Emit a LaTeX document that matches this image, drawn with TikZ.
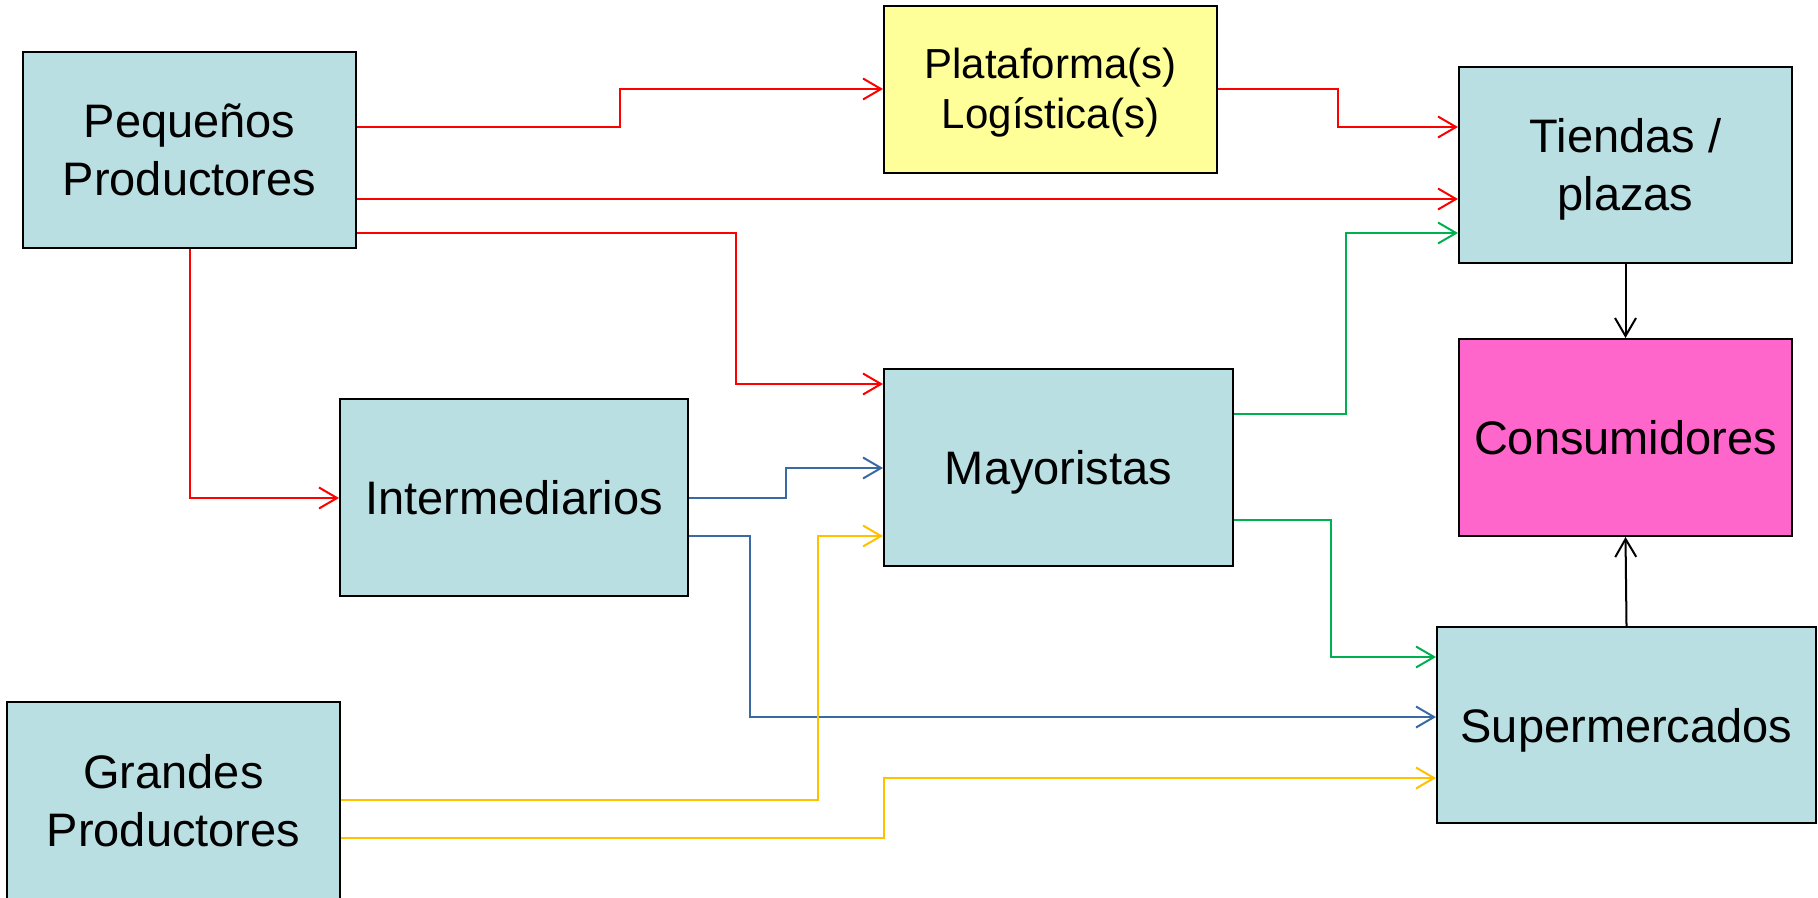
\documentclass[tikz,border=0pt]{standalone}
\usepackage{fontspec}
\setmainfont{Liberation Sans}
\usetikzlibrary{arrows.meta}

\definecolor{boxblue}{HTML}{B9DFE3}
\definecolor{boxyellow}{HTML}{FFFF99}
\definecolor{boxpink}{HTML}{FF66CC}
\definecolor{lnred}{HTML}{FF0000}
\definecolor{lngreen}{HTML}{00B050}
\definecolor{lnblue}{HTML}{3A6AA3}
\definecolor{lnyellow}{HTML}{FFC000}

% fixed line struts (height 22pt / 19.5pt, depth 5pt) so every label
% sits on the same baseline grid
\newcommand\bstrut{\rule[-5pt]{0pt}{27pt}}
\newcommand\pstrut{\rule[-5pt]{0pt}{24.5pt}}

\tikzset{
  box/.style={draw=black, line width=1pt, fill=boxblue, inner sep=0pt,
    align=center, font=\fontsize{23.5}{29}\selectfont},
  conn/.style={line width=1pt, -{Straight Barb[length=9pt,width=10.5pt]}},
  rline/.style={conn, draw=lnred},
  gline/.style={conn, draw=lngreen},
  bline/.style={conn, draw=lnblue},
  yline/.style={conn, draw=lnyellow},
  kline/.style={conn, draw=black},
}

\begin{document}
\begin{tikzpicture}[x=0.5pt, y=-0.5pt]
  \useasboundingbox (0,0) rectangle (1818,898);

  % boxes (centre, width, height in pixel units)
  \node[box, minimum width=166.5pt, minimum height=98pt] (pp) at (189.5,150)
    {\bstrut Pequeños\\\bstrut Productores};
  \node[box, fill=boxyellow, minimum width=166.5pt, minimum height=83.5pt,
        font=\fontsize{21}{25}\selectfont] (plat) at (1050.5,89.5)
    {\pstrut Plataforma(s)\\\pstrut Logística(s)};
  \node[box, minimum width=166.5pt, minimum height=98pt] (tien) at (1625.5,165)
    {\bstrut Tiendas /\\\bstrut plazas};
  \node[box, fill=boxpink, minimum width=166.5pt, minimum height=98.5pt] (cons) at (1625.5,437.5)
    {\bstrut Consumidores};
  \node[box, minimum width=174.5pt, minimum height=98.5pt] (may) at (1058.5,467.5)
    {\bstrut Mayoristas};
  \node[box, minimum width=174pt, minimum height=98.5pt] (inter) at (514,497.5)
    {\bstrut Intermediarios};
  \node[box, minimum width=189.5pt, minimum height=98pt] (sup) at (1626.5,725)
    {\bstrut Supermercados};
  \node[box, minimum width=166.5pt, minimum height=98.5pt] (gp) at (173.5,800.5)
    {\bstrut Grandes\\\bstrut Productores};

  % small producers
  \draw[rline] (pp.east|-0,127) -- (620,127) |- (plat.west|-0,89);
  \draw[rline] (pp.east|-0,199) -- (tien.west|-0,199);
  \draw[rline] (pp.east|-0,233) -- (736,233) |- (may.west|-0,384);
  \draw[rline] (pp.south) |- (inter.west|-0,498);
  \draw[rline] (plat.east|-0,89) -- (1338,89) |- (tien.west|-0,127);

  % wholesalers
  \draw[gline] (may.east|-0,414) -- (1346,414) |- (tien.west|-0,233);
  \draw[gline] (may.east|-0,520) -- (1331,520) |- (sup.west|-0,657);

  % intermediaries
  \draw[bline] (inter.east|-0,498) -- (786,498) |- (may.west|-0,468);
  \draw[bline] (inter.east|-0,536) -- (750,536) |- (sup.west|-0,717);

  % large producers
  \draw[yline] (gp.east|-0,800) -- (818,800) |- (may.west|-0,536);
  \draw[yline] (gp.east|-0,838) -- (884,838) |- (sup.west|-0,778);

  % to consumers
  \draw[kline] (tien.south) -- (cons.north);
  \draw[kline] (sup.north) -- (cons.south);
\end{tikzpicture}
\end{document}
